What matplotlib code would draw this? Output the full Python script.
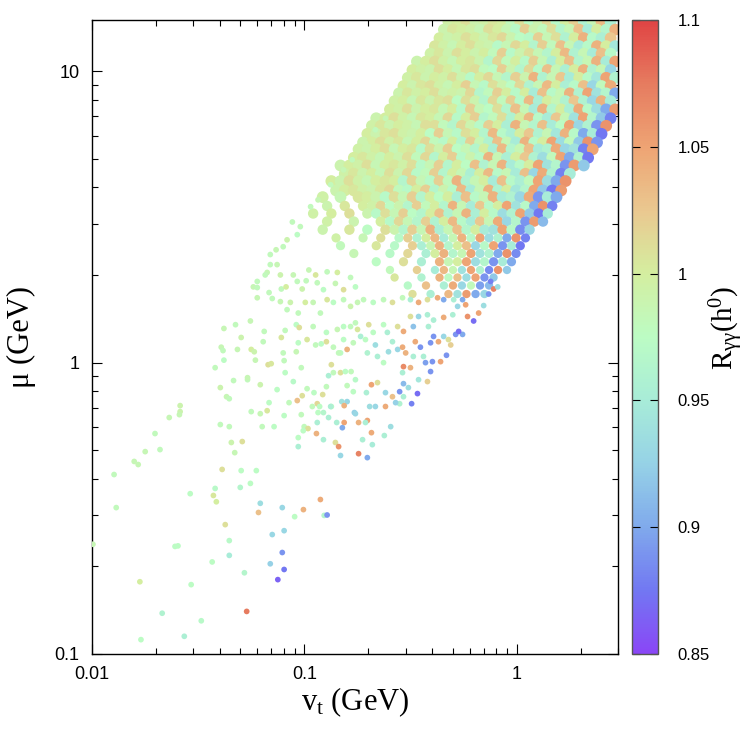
import numpy as np
import matplotlib
matplotlib.use("Agg")
import matplotlib.pyplot as plt
from matplotlib.colors import LinearSegmentedColormap, Normalize
from matplotlib.ticker import LogLocator, NullFormatter

plt.rcParams['font.family'] = ['Liberation Sans', 'DejaVu Sans']
plt.rcParams['mathtext.fontset'] = 'custom'
plt.rcParams['mathtext.rm'] = 'Liberation Serif'
plt.rcParams['mathtext.it'] = 'Liberation Serif'

# ---- dense part of the scan (upper right), read row by row: mu, then vt and R along the row
row_mu = [14.8, 13.9, 13.0, 12.2, 11.5, 10.8, 10.1, 9.5, 8.9, 8.4, 7.9, 7.4, 6.9, 6.5,
          6.1, 5.7, 5.4, 5.05, 4.75, 4.45, 4.2, 3.9, 3.7, 3.45, 3.25, 3.05, 2.86, 2.68,
          2.52, 2.37, 2.22, 2.08, 1.96, 1.84, 1.72]

row_vt = [
    [0.477, 0.526, 0.58, 0.64, 0.705, 0.778, 0.858, 0.945, 1.04, 1.15, 1.27, 1.4, 1.54, 1.7, 1.87, 2.07, 2.28, 2.51, 2.77],
    [0.454, 0.501, 0.552, 0.609, 0.672, 0.741, 0.817, 0.9, 0.993, 1.1, 1.21, 1.33, 1.47, 1.62, 1.78, 1.97, 2.17, 2.39, 2.64, 2.91],
    [0.433, 0.477, 0.526, 0.58, 0.64, 0.705, 0.778, 0.858, 0.945, 1.04, 1.15, 1.27, 1.4, 1.54, 1.7, 1.87, 2.07, 2.28, 2.51, 2.77],
    [0.412, 0.454, 0.501, 0.552, 0.609, 0.672, 0.741, 0.817, 0.9, 0.993, 1.1, 1.21, 1.33, 1.47, 1.62, 1.78, 1.97, 2.17, 2.39, 2.64, 2.91],
    [0.393, 0.433, 0.477, 0.526, 0.58, 0.64, 0.705, 0.778, 0.858, 0.945, 1.04, 1.15, 1.27, 1.4, 1.54, 1.7, 1.87, 2.07, 2.28, 2.51, 2.77],
    [0.339, 0.374, 0.412, 0.454, 0.501, 0.552, 0.609, 0.672, 0.741, 0.817, 0.9, 0.993, 1.1, 1.21, 1.33, 1.47, 1.62, 1.78, 1.97, 2.17, 2.39, 2.64, 2.91],
    [0.323, 0.356, 0.393, 0.433, 0.477, 0.526, 0.58, 0.64, 0.705, 0.778, 0.858, 0.945, 1.04, 1.15, 1.27, 1.4, 1.54, 1.7, 1.87, 2.07, 2.28, 2.51, 2.77],
    [0.307, 0.339, 0.374, 0.412, 0.454, 0.501, 0.552, 0.609, 0.672, 0.741, 0.817, 0.9, 0.993, 1.1, 1.21, 1.33, 1.47, 1.62, 1.78, 1.97, 2.17, 2.39, 2.64, 2.91],
    [0.293, 0.323, 0.356, 0.393, 0.433, 0.477, 0.526, 0.58, 0.64, 0.705, 0.778, 0.858, 0.945, 1.04, 1.15, 1.27, 1.4, 1.54, 1.7, 1.87, 2.07, 2.28, 2.51, 2.77],
    [0.279, 0.307, 0.339, 0.374, 0.412, 0.454, 0.501, 0.552, 0.609, 0.672, 0.741, 0.817, 0.9, 0.993, 1.1, 1.21, 1.33, 1.47, 1.62, 1.78, 1.97, 2.17, 2.39, 2.64, 2.91],
    [0.266, 0.293, 0.323, 0.356, 0.393, 0.433, 0.477, 0.526, 0.58, 0.64, 0.705, 0.778, 0.858, 0.945, 1.04, 1.15, 1.27, 1.4, 1.54, 1.7, 1.87, 2.07, 2.28, 2.51, 2.77],
    [0.253, 0.279, 0.307, 0.339, 0.374, 0.412, 0.454, 0.501, 0.552, 0.609, 0.672, 0.741, 0.817, 0.9, 0.993, 1.1, 1.21, 1.33, 1.47, 1.62, 1.78, 1.97, 2.17, 2.39, 2.64, 2.91],
    [0.218, 0.241, 0.266, 0.293, 0.323, 0.356, 0.393, 0.433, 0.477, 0.526, 0.58, 0.64, 0.705, 0.778, 0.858, 0.945, 1.04, 1.15, 1.27, 1.4, 1.54, 1.7, 1.87, 2.07, 2.28, 2.51, 2.77],
    [0.208, 0.229, 0.253, 0.279, 0.307, 0.339, 0.374, 0.412, 0.454, 0.501, 0.552, 0.609, 0.672, 0.741, 0.817, 0.9, 0.993, 1.1, 1.21, 1.33, 1.47, 1.62, 1.78, 1.97, 2.17, 2.39, 2.64],
    [0.198, 0.218, 0.241, 0.266, 0.293, 0.323, 0.356, 0.393, 0.433, 0.477, 0.526, 0.58, 0.64, 0.705, 0.778, 0.858, 0.945, 1.04, 1.15, 1.27, 1.4, 1.54, 1.7, 1.87, 2.07, 2.28, 2.51],
    [0.189, 0.208, 0.229, 0.253, 0.279, 0.307, 0.339, 0.374, 0.412, 0.454, 0.501, 0.552, 0.609, 0.672, 0.741, 0.817, 0.9, 0.993, 1.1, 1.21, 1.33, 1.47, 1.62, 1.78, 1.97, 2.17, 2.39],
    [0.18, 0.198, 0.218, 0.241, 0.266, 0.293, 0.323, 0.356, 0.393, 0.433, 0.477, 0.526, 0.58, 0.64, 0.705, 0.778, 0.858, 0.945, 1.04, 1.15, 1.27, 1.4, 1.54, 1.7, 1.87, 2.07, 2.28],
    [0.171, 0.189, 0.208, 0.229, 0.253, 0.279, 0.307, 0.339, 0.374, 0.412, 0.454, 0.501, 0.552, 0.609, 0.672, 0.741, 0.817, 0.9, 0.993, 1.1, 1.21, 1.33, 1.47, 1.62, 1.78, 1.97, 2.17],
    [0.148, 0.163, 0.18, 0.198, 0.218, 0.241, 0.266, 0.293, 0.323, 0.356, 0.393, 0.433, 0.477, 0.526, 0.58, 0.64, 0.705, 0.778, 0.858, 0.945, 1.04, 1.15, 1.27, 1.4, 1.54, 1.7, 1.87, 2.07],
    [0.155, 0.171, 0.189, 0.208, 0.229, 0.253, 0.279, 0.307, 0.339, 0.374, 0.412, 0.454, 0.501, 0.552, 0.609, 0.672, 0.741, 0.817, 0.9, 0.993, 1.1, 1.21, 1.33, 1.47, 1.62, 1.78],
    [0.134, 0.148, 0.163, 0.18, 0.198, 0.218, 0.241, 0.266, 0.293, 0.323, 0.356, 0.393, 0.433, 0.477, 0.526, 0.58, 0.64, 0.705, 0.778, 0.858, 0.945, 1.04, 1.15, 1.27, 1.4, 1.54, 1.7],
    [0.141, 0.155, 0.171, 0.189, 0.208, 0.229, 0.253, 0.279, 0.307, 0.339, 0.374, 0.412, 0.454, 0.501, 0.552, 0.609, 0.672, 0.741, 0.817, 0.9, 0.993, 1.1, 1.21, 1.33, 1.47, 1.62],
    [0.122, 0.148, 0.18, 0.198, 0.218, 0.241, 0.266, 0.293, 0.323, 0.356, 0.393, 0.433, 0.477, 0.526, 0.58, 0.64, 0.705, 0.778, 0.858, 0.945, 1.04, 1.15, 1.27, 1.4, 1.54],
    [0.128, 0.155, 0.189, 0.208, 0.229, 0.253, 0.279, 0.307, 0.339, 0.374, 0.412, 0.454, 0.501, 0.552, 0.609, 0.672, 0.741, 0.817, 0.9, 0.993, 1.1, 1.21, 1.33, 1.47],
    [0.11, 0.134, 0.163, 0.198, 0.218, 0.241, 0.266, 0.293, 0.323, 0.356, 0.393, 0.433, 0.477, 0.526, 0.58, 0.64, 0.705, 0.778, 0.858, 0.945, 1.04, 1.15, 1.27, 1.4],
    [0.128, 0.171, 0.229, 0.253, 0.279, 0.307, 0.339, 0.374, 0.412, 0.454, 0.501, 0.552, 0.609, 0.672, 0.741, 0.817, 0.9, 0.993, 1.1, 1.21, 1.33],
    [0.122, 0.163, 0.198, 0.241, 0.266, 0.293, 0.323, 0.356, 0.393, 0.433, 0.477, 0.526, 0.58, 0.64, 0.705, 0.778, 0.858, 0.945, 1.04, 1.15],
    [0.141, 0.189, 0.229, 0.279, 0.307, 0.339, 0.374, 0.412, 0.454, 0.501, 0.552, 0.609, 0.672, 0.741, 0.817, 0.9, 0.993, 1.1],
    [0.148, 0.218, 0.266, 0.323, 0.356, 0.393, 0.433, 0.477, 0.526, 0.58, 0.64, 0.705, 0.778, 0.858, 0.945, 1.04],
    [0.171, 0.253, 0.307, 0.374, 0.412, 0.454, 0.501, 0.552, 0.609, 0.672, 0.741, 0.817, 0.9, 0.993],
    [0.218, 0.293, 0.356, 0.433, 0.477, 0.526, 0.58, 0.64, 0.705, 0.778, 0.858, 0.945],
    [0.253, 0.339, 0.412, 0.454, 0.501, 0.552, 0.609, 0.672, 0.741, 0.817, 0.9],
    [0.266, 0.356, 0.433, 0.477, 0.526, 0.58, 0.64, 0.705, 0.778],
    [0.307, 0.374, 0.454, 0.501, 0.552, 0.609, 0.672, 0.741],
    [0.323, 0.393, 0.477, 0.526, 0.58, 0.64, 0.705],
]

row_r = [
    [0.995, 1.0, 1.01, 0.99, 0.995, 1.005, 1.0, 0.98, 1.01, 0.975, 0.99, 1.015, 0.97, 1.0, 1.02, 0.96, 0.985, 1.035, 0.955],
    [0.99, 1.005, 1.0, 0.995, 0.985, 1.01, 1.0, 0.985, 0.97, 1.02, 0.99, 0.98, 1.01, 0.965, 0.985, 1.03, 0.95, 1.0, 0.965, 1.04],
    [1.0, 0.99, 0.995, 1.01, 1.0, 0.99, 1.005, 1.015, 0.99, 0.975, 0.97, 1.02, 0.985, 1.01, 0.96, 1.0, 1.04, 0.97, 0.955, 1.025],
    [1.005, 0.995, 0.985, 1.0, 1.01, 0.995, 0.99, 0.97, 0.985, 1.015, 1.0, 0.965, 1.02, 0.98, 1.03, 0.985, 0.95, 0.97, 1.04, 1.0, 0.945],
    [0.995, 1.005, 0.99, 1.01, 1.0, 0.99, 1.0, 0.98, 1.02, 0.97, 0.99, 1.01, 0.985, 0.965, 1.0, 1.035, 0.96, 0.985, 0.95, 1.03, 0.97],
    [0.99, 1.0, 1.01, 0.995, 0.985, 1.0, 1.005, 0.99, 0.965, 1.015, 0.98, 1.0, 0.97, 1.02, 0.985, 0.955, 1.0, 1.03, 0.965, 0.985, 1.04, 0.95, 1.05],
    [1.0, 0.995, 0.99, 1.01, 1.0, 0.985, 1.005, 1.01, 0.98, 0.975, 1.02, 0.99, 0.965, 1.015, 0.97, 1.03, 0.985, 0.955, 1.0, 1.04, 0.96, 0.985, 0.93],
    [0.995, 1.005, 0.99, 1.0, 0.995, 1.01, 0.99, 0.97, 1.0, 1.015, 0.985, 0.965, 1.02, 0.99, 1.04, 0.96, 0.985, 1.025, 0.95, 1.0, 0.97, 0.945, 1.05, 0.96],
    [1.0, 0.99, 1.005, 1.01, 0.995, 0.985, 1.0, 1.02, 0.985, 0.97, 1.01, 0.99, 0.975, 1.015, 0.96, 0.985, 1.035, 1.0, 0.955, 0.97, 1.03, 0.93, 0.98, 1.045],
    [0.99, 1.005, 0.995, 1.0, 1.01, 0.99, 0.995, 0.99, 1.015, 0.965, 0.98, 1.02, 1.0, 0.97, 1.0, 0.95, 1.03, 0.97, 0.985, 1.04, 0.96, 1.05, 0.94, 0.965, 0.9],
    [0.995, 1.0, 0.985, 1.005, 0.99, 1.005, 1.01, 0.975, 1.01, 0.99, 0.965, 1.015, 0.98, 1.02, 0.97, 1.035, 0.955, 1.0, 0.985, 0.96, 1.025, 0.96, 0.93, 1.04, 0.95],
    [1.0, 0.995, 1.01, 0.99, 1.0, 1.005, 0.985, 1.0, 0.97, 1.02, 0.985, 0.975, 1.01, 0.965, 1.03, 0.985, 0.95, 1.04, 0.965, 1.0, 0.955, 1.045, 0.97, 0.935, 0.9, 1.055],
    [0.99, 1.0, 1.01, 0.995, 0.985, 1.005, 1.0, 0.985, 1.015, 0.97, 1.0, 1.02, 0.965, 0.98, 1.01, 0.96, 1.0, 1.035, 0.97, 0.95, 1.025, 0.985, 0.94, 1.05, 0.965, 0.92, 0.88],
    [0.995, 1.005, 0.99, 1.0, 0.995, 0.985, 1.01, 1.01, 0.98, 0.965, 1.015, 0.99, 0.97, 1.02, 1.0, 0.955, 1.04, 0.985, 0.965, 1.03, 0.95, 0.975, 1.05, 0.93, 0.96, 0.89, 1.06],
    [1.0, 0.99, 1.005, 1.01, 0.995, 0.99, 1.0, 0.975, 1.02, 0.985, 0.97, 1.01, 1.0, 0.965, 1.035, 0.97, 0.955, 1.0, 1.025, 0.96, 0.985, 0.945, 1.04, 0.97, 0.9, 0.95, 0.875],
    [0.99, 1.0, 1.01, 0.995, 1.005, 0.985, 1.0, 1.015, 0.98, 0.97, 1.0, 0.965, 1.02, 0.985, 0.96, 1.03, 0.985, 0.95, 1.04, 0.97, 1.0, 1.05, 0.935, 0.98, 0.92, 1.06, 0.89],
    [0.995, 0.99, 1.0, 1.01, 0.985, 1.0, 1.005, 0.97, 1.01, 0.99, 1.02, 0.975, 0.985, 0.965, 1.0, 0.955, 1.035, 0.965, 0.985, 1.03, 0.95, 0.96, 1.045, 0.93, 0.94, 0.88, 1.05],
    [1.0, 1.005, 0.995, 0.985, 1.0, 0.99, 1.01, 0.98, 1.015, 0.965, 1.0, 1.02, 0.97, 0.99, 0.97, 1.04, 0.985, 0.955, 1.0, 1.025, 0.96, 0.935, 0.98, 1.05, 0.9, 0.96, 0.875],
    [0.99, 1.0, 0.995, 1.01, 0.985, 1.0, 1.005, 0.995, 1.01, 0.97, 0.985, 1.02, 0.965, 1.0, 0.975, 1.03, 0.96, 0.985, 1.04, 0.95, 0.97, 1.0, 1.05, 0.94, 0.965, 0.89, 1.055, 0.92],
    [0.995, 1.005, 0.99, 1.0, 0.985, 1.01, 0.99, 1.015, 0.97, 0.98, 1.02, 0.965, 1.0, 0.985, 0.955, 1.0, 1.035, 0.97, 0.985, 0.95, 1.03, 0.93, 1.045, 0.96, 0.88, 0.95],
    [1.0, 0.99, 1.01, 0.995, 0.985, 1.0, 1.005, 1.0, 0.965, 1.015, 0.985, 0.97, 1.02, 0.98, 1.04, 0.96, 0.985, 1.0, 0.95, 1.03, 0.97, 0.955, 0.98, 1.05, 0.935, 0.9, 1.06],
    [0.99, 1.0, 1.005, 0.995, 0.99, 1.005, 1.015, 0.98, 0.97, 1.0, 1.02, 0.965, 0.99, 0.97, 1.035, 0.95, 0.985, 1.04, 0.96, 1.0, 0.945, 0.965, 1.05, 0.92, 0.875, 1.055],
    [0.995, 0.985, 1.005, 1.0, 0.99, 0.97, 1.01, 0.985, 1.02, 0.965, 1.0, 0.975, 1.0, 0.955, 1.03, 0.97, 0.985, 1.04, 0.95, 0.96, 0.93, 1.045, 0.89, 0.95, 0.9],
    [0.99, 1.005, 1.0, 0.995, 1.015, 0.975, 0.99, 0.965, 1.02, 0.98, 1.0, 0.965, 1.04, 0.985, 0.95, 1.025, 0.97, 1.0, 1.05, 0.94, 0.97, 0.9, 1.06, 0.88],
    [0.995, 1.0, 1.01, 0.99, 0.97, 1.01, 0.985, 1.02, 0.975, 0.965, 1.0, 1.03, 0.96, 0.985, 1.04, 0.955, 1.0, 0.97, 0.935, 0.96, 1.05, 0.92, 0.875, 0.95],
    [0.995, 0.99, 1.0, 0.97, 1.015, 0.985, 0.965, 1.02, 0.96, 1.0, 1.035, 0.97, 0.95, 1.025, 0.985, 1.045, 0.93, 0.965, 0.89, 1.055, 0.91],
    [0.99, 1.005, 0.975, 1.01, 0.99, 0.965, 1.02, 0.985, 1.04, 0.955, 0.985, 1.03, 0.965, 1.0, 0.95, 0.94, 1.05, 0.97, 0.885, 0.93],
    [0.995, 0.985, 1.01, 0.97, 1.02, 0.96, 1.0, 1.035, 0.95, 0.985, 1.04, 0.97, 1.05, 0.935, 0.96, 0.9, 1.06, 0.88],
    [0.98, 1.005, 0.97, 1.02, 0.955, 0.985, 1.04, 0.965, 1.0, 1.03, 0.93, 0.97, 1.05, 0.89, 0.95, 0.875],
    [0.985, 0.97, 1.015, 0.955, 1.0, 1.04, 0.965, 0.985, 1.05, 0.94, 0.96, 0.9, 1.06, 0.885],
    [0.975, 1.01, 0.955, 1.04, 0.985, 1.0, 1.05, 0.935, 0.965, 0.89, 0.95, 0.9],
    [0.98, 1.02, 0.95, 1.035, 0.985, 0.94, 1.05, 0.96, 0.885, 1.06, 0.92],
    [1.005, 0.96, 1.04, 0.975, 1.03, 0.935, 1.05, 0.89, 0.92],
    [0.97, 1.03, 0.955, 1.045, 0.93, 0.98, 0.895, 0.91],
    [1.01, 0.955, 1.035, 0.94, 1.055, 0.9, 0.93],
]

# ---- sparser points, (vt, mu, R), grouped by region of the plot
tail_pts = [  # lower left
    (0.013, 0.318, 0.98), (0.0385, 0.333, 1.0), (0.119, 0.339, 1.045), (0.062, 0.329, 0.935),
    (0.0608, 0.306, 1.03), (0.0787, 0.318, 0.93), (0.099, 0.313, 1.04), (0.09, 0.296, 0.975),
    (0.124, 0.299, 0.965), (0.128, 0.30, 0.89), (0.0424, 0.278, 1.01), (0.0101, 0.238, 0.985),
    (0.0246, 0.234, 0.975), (0.0254, 0.235, 0.975), (0.0443, 0.245, 0.97), (0.0706, 0.257, 0.93),
    (0.0803, 0.265, 0.93), (0.0368, 0.207, 0.975), (0.0443, 0.218, 0.95), (0.0787, 0.223, 0.89),
    (0.0691, 0.204, 0.925), (0.0522, 0.19, 0.965), (0.0803, 0.195, 0.875), (0.075, 0.18, 0.865),
    (0.0168, 0.177, 1.0), (0.0293, 0.173, 0.975), (0.0535, 0.14, 1.075), (0.0214, 0.138, 0.96),
    (0.0327, 0.13, 0.97), (0.017, 0.112, 0.975), (0.0272, 0.115, 0.955), (0.0402, 0.821, 0.99),
    (0.0464, 0.868, 0.98), (0.054, 0.874, 0.98), (0.062, 0.84, 0.99), (0.043, 0.764, 0.985),
    (0.0443, 0.752, 0.98), (0.026, 0.712, 0.99), (0.026, 0.679, 0.99), (0.0258, 0.663, 0.985),
    (0.0231, 0.648, 0.985), (0.0562, 0.679, 0.98), (0.062, 0.668, 0.985), (0.0402, 0.613, 0.98),
    (0.0443, 0.603, 0.98), (0.0633, 0.603, 0.98), (0.0198, 0.571, 0.98), (0.0453, 0.532, 0.99),
    (0.051, 0.536, 1.01), (0.0178, 0.495, 0.985), (0.0209, 0.503, 0.98), (0.047, 0.491, 0.985),
    (0.0158, 0.458, 0.985), (0.0165, 0.447, 0.985), (0.041, 0.43, 1.01), (0.0504, 0.426, 0.975),
    (0.0594, 0.426, 0.975), (0.0127, 0.413, 0.98), (0.0557, 0.385, 0.975), (0.038, 0.37, 0.97),
    (0.0499, 0.373, 0.965), (0.029, 0.355, 0.975), (0.0373, 0.35, 1.005),
]

mid_pts = [  # middle band, mu between ~0.5 and ~2.2
    (0.0691, 2.17, 0.98), (0.0744, 2.17, 0.985), (0.06, 1.9, 0.98), (0.0575, 1.82, 0.985),
    (0.06, 1.81, 0.98), (0.0668, 2.04, 0.985), (0.0654, 2.0, 0.98), (0.0771, 2.0, 0.99),
    (0.0779, 1.79, 0.98), (0.082, 1.82, 1.0), (0.0887, 2.0, 0.985), (0.0926, 1.9, 0.98),
    (0.0977, 1.79, 0.99), (0.102, 1.91, 0.98), (0.105, 2.08, 0.985), (0.113, 2.0, 1.005),
    (0.115, 1.88, 0.98), (0.123, 1.78, 0.975), (0.128, 2.05, 0.98), (0.143, 2.04, 1.0),
    (0.14, 1.87, 0.985), (0.153, 1.78, 1.01), (0.165, 1.96, 0.98), (0.174, 1.82, 0.975),
    (0.0682, 1.74, 0.98), (0.06, 1.67, 0.985), (0.0706, 1.66, 0.98), (0.0771, 1.62, 0.985),
    (0.0829, 1.52, 0.98), (0.0859, 1.61, 0.99), (0.0936, 1.48, 0.98), (0.101, 1.61, 1.0),
    (0.11, 1.61, 0.985), (0.119, 1.48, 0.98), (0.128, 1.645, 1.005), (0.137, 1.61, 0.975),
    (0.153, 1.645, 0.98), (0.165, 1.56, 0.99), (0.178, 1.61, 0.985),
    (0.0418, 1.31, 0.985), (0.0474, 1.35, 0.98), (0.0557, 1.39, 0.985), (0.0647, 1.28, 0.98),
    (0.0504, 1.22, 0.99), (0.0406, 1.13, 0.985), (0.0414, 1.1, 0.98), (0.0484, 1.11, 0.985),
    (0.0562, 1.11, 1.0), (0.0581, 1.09, 0.99), (0.064, 1.18, 0.98), (0.0779, 1.22, 1.005),
    (0.0812, 1.29, 0.98), (0.0916, 1.35, 0.975), (0.0946, 1.32, 1.01), (0.103, 1.2, 1.005),
    (0.11, 1.33, 0.98), (0.127, 1.27, 0.975), (0.127, 1.18, 1.01), (0.113, 1.15, 0.98),
    (0.0936, 1.17, 0.975), (0.0795, 1.08, 0.98), (0.0916, 1.09, 0.985), (0.12, 1.16, 0.975),
    (0.137, 1.13, 0.98), (0.148, 1.08, 0.975), (0.159, 1.11, 1.04), (0.17, 1.17, 0.98),
    (0.178, 1.3, 1.005), (0.153, 1.2, 0.975), (0.143, 1.3, 0.985), (0.165, 1.33, 0.98),
    (0.038, 0.961, 0.98), (0.0418, 1.02, 0.975), (0.0588, 1.02, 0.985), (0.0675, 0.984, 1.01),
    (0.0698, 0.992, 1.005), (0.0803, 1.016, 0.98), (0.0812, 0.924, 0.975), (0.0967, 0.961, 0.98),
    (0.054, 0.888, 0.985), (0.0744, 0.808, 0.975), (0.0887, 0.861, 0.97), (0.103, 0.814, 0.98),
    (0.111, 0.789, 0.975), (0.127, 0.827, 0.98), (0.13, 0.902, 0.955), (0.134, 0.984, 1.01),
    (0.137, 0.924, 0.98), (0.148, 0.924, 1.01), (0.156, 0.932, 0.975), (0.166, 0.932, 0.98),
    (0.174, 0.874, 0.97), (0.159, 0.834, 0.98), (0.17, 0.795, 0.975),
    (0.0682, 0.729, 0.975), (0.0847, 0.729, 0.98), (0.0926, 0.741, 1.03), (0.0977, 0.77, 1.01),
    (0.122, 0.777, 1.01), (0.115, 0.723, 1.015), (0.118, 0.707, 0.975), (0.109, 0.707, 0.98),
    (0.134, 0.707, 0.975), (0.0668, 0.684, 1.005), (0.0803, 0.658, 0.975), (0.0967, 0.663, 0.98),
    (0.116, 0.674, 0.975), (0.123, 0.674, 0.965), (0.13, 0.648, 0.955), (0.15, 0.735, 0.94),
    (0.159, 0.735, 0.93), (0.154, 0.712, 1.04), (0.172, 0.674, 0.925), (0.142, 0.623, 0.955),
    (0.154, 0.623, 1.05), (0.151, 0.598, 0.9), (0.18, 0.623, 1.04), (0.072, 0.603, 0.975),
    (0.0998, 0.603, 0.98), (0.104, 0.594, 1.01), (0.0988, 0.584, 0.975), (0.115, 0.623, 0.955),
    (0.123, 0.544, 0.955), (0.114, 0.571, 1.04), (0.0936, 0.553, 0.975), (0.14, 0.532, 1.01),
    (0.145, 0.515, 1.06), (0.0936, 0.515, 0.955),
]

edge_pts = [  # close to the lower right boundary
    (0.207, 0.84, 1.05), (0.221, 0.854, 1.01), (0.241, 0.789, 0.93), (0.26, 0.764, 1.03),
    (0.293, 0.764, 0.955), (0.281, 0.723, 0.96), (0.269, 0.729, 0.925), (0.241, 0.707, 1.045),
    (0.216, 0.707, 0.93), (0.203, 0.707, 0.935), (0.196, 0.789, 0.955), (0.133, 0.707, 0.955),
    (0.174, 0.668, 0.93), (0.198, 0.633, 1.05), (0.194, 0.623, 0.955), (0.255, 0.603, 0.935),
    (0.207, 0.575, 1.045), (0.188, 0.544, 0.955), (0.238, 0.562, 0.955), (0.209, 0.523, 0.95),
    (0.148, 0.48, 0.93), (0.18, 0.487, 1.07), (0.198, 0.472, 0.9),
    (0.341, 0.783, 0.87), (0.32, 0.723, 0.88), (0.281, 0.795, 0.89), (0.293, 0.847, 0.91),
    (0.309, 0.821, 0.935), (0.345, 0.874, 0.945), (0.393, 0.932, 0.89), (0.38, 0.861, 1.02),
    (0.401, 1.008, 0.89), (0.372, 1.0, 0.895), (0.438, 1.008, 1.05), (0.467, 1.06, 0.89),
    (0.489, 1.15, 1.02), (0.516, 1.25, 0.89), (0.556, 1.25, 0.9), (0.533, 1.28, 0.87),
    (0.587, 1.44, 1.06), (0.627, 1.39, 0.87), (0.662, 1.48, 1.05), (0.699, 1.57, 0.935),
    (0.738, 1.72, 0.89), (0.779, 1.79, 1.07), (0.754, 1.9, 0.88), (0.814, 1.82, 0.935),
    (0.145, 1.08, 0.98), (0.184, 1.23, 0.955), (0.198, 1.08, 0.96), (0.216, 1.15, 0.935),
    (0.221, 1.05, 0.955), (0.236, 1.0, 0.975), (0.249, 1.09, 0.935), (0.26, 1.18, 0.955),
    (0.275, 1.11, 0.93), (0.29, 1.13, 1.045), (0.30, 1.08, 1.04), (0.293, 0.969, 1.065),
    (0.316, 0.961, 1.04), (0.29, 0.924, 0.955), (0.326, 1.05, 0.955), (0.333, 1.18, 1.045),
    (0.352, 1.13, 0.89), (0.364, 1.05, 0.955), (0.393, 1.17, 0.89), (0.406, 1.23, 0.89),
    (0.428, 1.18, 1.045), (0.453, 1.23, 0.93), (0.477, 1.2, 1.01), (0.384, 1.33, 0.955),
    (0.326, 1.33, 0.915), (0.293, 1.28, 1.045), (0.275, 1.33, 1.01), (0.246, 1.27, 0.955),
    (0.236, 1.35, 0.975), (0.211, 1.27, 0.975), (0.194, 1.2, 0.975), (0.201, 1.35, 1.01),
    (0.174, 1.37, 0.98), (0.153, 1.33, 0.975), (0.316, 1.44, 1.01), (0.345, 1.44, 0.93),
    (0.38, 1.46, 0.955), (0.406, 1.4, 0.955), (0.453, 1.43, 1.045), (0.50, 1.46, 0.955),
    (0.527, 1.56, 0.93), (0.556, 1.645, 0.9), (0.575, 1.58, 1.05), (0.505, 1.645, 0.955),
    (0.453, 1.645, 0.9), (0.424, 1.67, 1.045), (0.38, 1.645, 1.01), (0.345, 1.61, 1.045),
    (0.316, 1.645, 0.955), (0.29, 1.67, 0.98), (0.26, 1.61, 1.01), (0.236, 1.645, 0.98),
    (0.211, 1.61, 0.975), (0.19, 1.645, 0.98),
]

fringe_pts = [  # loose points along the upper left edge
    (0.107, 3.43, 0.98), (0.116, 3.62, 0.985), (0.0957, 2.93, 0.98), (0.0829, 2.64, 0.99),
    (0.0795, 2.5, 0.98), (0.0926, 2.75, 0.975), (0.133, 4.08, 0.98), (0.153, 4.59, 0.985),
    (0.168, 4.97, 0.98), (0.194, 5.68, 0.99), (0.216, 6.3, 0.98), (0.241, 6.9, 0.985),
    (0.0691, 2.35, 0.98), (0.0736, 2.44, 0.985), (0.0878, 3.04, 0.98),
]

cbar_ticks = [0.85, 0.9, 0.95, 1.0, 1.05, 1.1]

# palette picked off the colour bar, bottom (0.85) to top (1.1)
palette = ['#8a46f6', '#7278f2', '#80aaec', '#96d2e6', '#a8ecd8', '#bcfcc4',
           '#d4eea0', '#eac890', '#eea474', '#e67c60', '#e04444']
cmap = LinearSegmentedColormap.from_list('ryg', palette)
norm = Normalize(vmin=0.85, vmax=1.1)

# bigger dots where the scan is packed solid, smaller where it thins out
def row_size(i):
    if i < 23:
        return 72
    if i < 27:
        return 56
    if i < 31:
        return 44
    return 36

dense_vt, dense_mu, dense_r, dense_s = [], [], [], []
for i, (m, vs, rs) in enumerate(zip(row_mu, row_vt, row_r)):
    n = min(len(vs), len(rs))
    dense_vt += vs[:n]
    dense_mu += [m] * n
    dense_r += rs[:n]
    dense_s += [row_size(i)] * n

loose = np.array(tail_pts + mid_pts + edge_pts + fringe_pts)

fig = plt.figure(figsize=(7.5, 7.33), dpi=100)
ax = fig.add_axes([0.1227, 0.1078, 0.7013, 0.8649])
cax = fig.add_axes([0.8427, 0.1078, 0.0347, 0.8649])

ax.scatter(dense_vt, dense_mu, c=dense_r, cmap=cmap, norm=norm, s=dense_s,
           edgecolors='none', zorder=2)
sc = ax.scatter(loose[:, 0], loose[:, 1], c=loose[:, 2], cmap=cmap, norm=norm, s=17,
                edgecolors='none', zorder=3)

ax.set_xscale('log')
ax.set_yscale('log')
ax.set_xlim(0.01, 3.0)
ax.set_ylim(0.1, 15.0)
ax.set_xticks([0.01, 0.1, 1])
ax.set_xticklabels(['0.01', '0.1', '1'])
ax.set_yticks([0.1, 1, 10])
ax.set_yticklabels(['0.1', '1', '10'])
ax.xaxis.set_minor_locator(LogLocator(base=10, subs=range(2, 10)))
ax.yaxis.set_minor_locator(LogLocator(base=10, subs=range(2, 10)))
ax.xaxis.set_minor_formatter(NullFormatter())
ax.yaxis.set_minor_formatter(NullFormatter())
ax.tick_params(which='both', direction='in', top=True, right=True, width=0.8,
               labelsize=13, pad=9)
ax.tick_params(which='major', length=7)
ax.tick_params(which='minor', length=4)
for sp in ax.spines.values():
    sp.set_linewidth(1.0)

fig.text(0.473, 0.042, r'v$_{\mathregular{t}}$ (GeV)', family='Liberation Serif',
         size=22, ha='center', va='center')
fig.text(0.029, 0.54, 'μ (GeV)', family='Liberation Serif', size=22,
         ha='center', va='center', rotation=90)

cb = fig.colorbar(sc, cax=cax, ticks=cbar_ticks)
cb.ax.set_yticklabels(['%g' % t for t in cbar_ticks])
cb.ax.tick_params(direction='in', left=True, right=True, length=6, width=0.8,
                  labelsize=12, pad=14)
cb.outline.set_edgecolor('#555555')
cb.outline.set_linewidth(1.0)
fig.text(0.969, 0.553, r'R$_{\mathregular{\gamma\gamma}}$(h$^{\mathregular{0}}$)',
         family='Liberation Serif', size=21, ha='center', va='center', rotation=90)

fig.savefig('out.png', dpi=100)
